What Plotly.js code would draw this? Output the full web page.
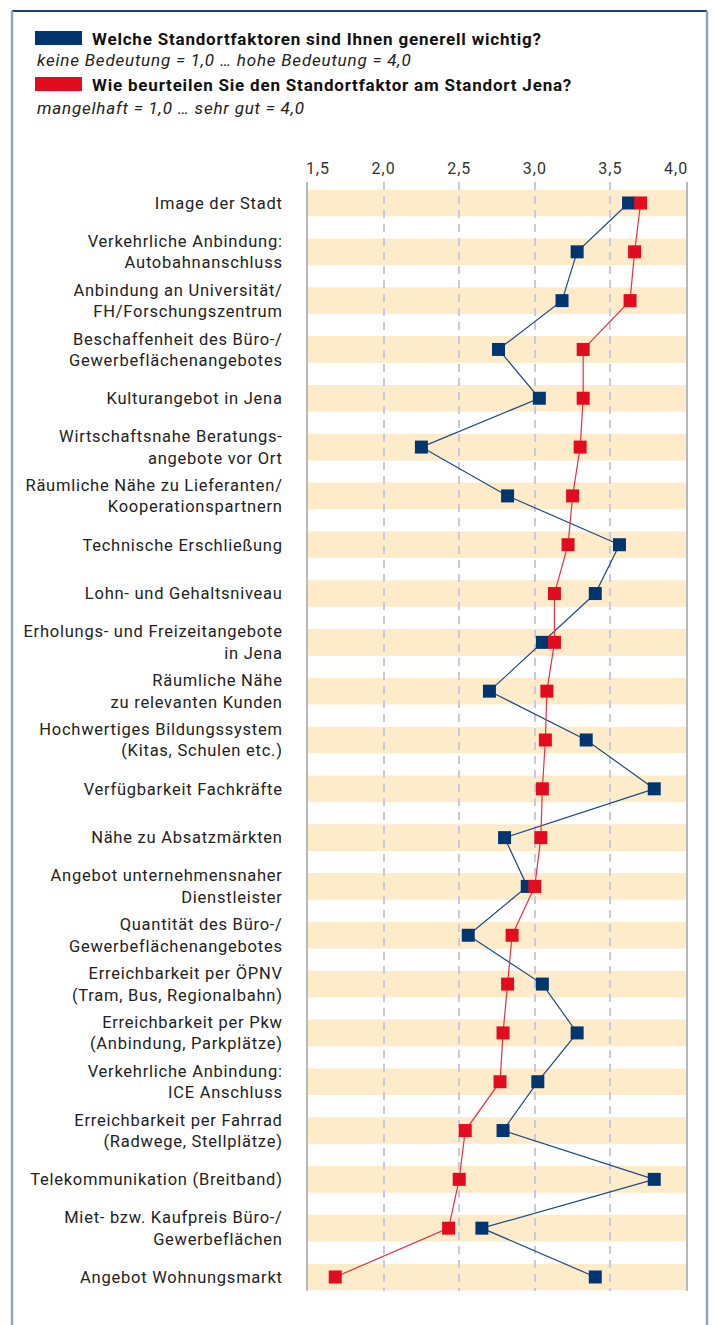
<!DOCTYPE html>
<html>
<head>
<meta charset="utf-8">
<script src="https://cdn.plot.ly/plotly-3.0.1.min.js"></script>
<style>
html,body{margin:0;padding:0;background:#fff;}
#chart{width:715px;height:1325px;}
#chart .ytick text{letter-spacing:0.75px;}
#chart .xtick text{letter-spacing:1px;}
text.annotation-text{letter-spacing:0.8px;}
</style>
</head>
<body>
<div id="chart"></div>
<script>
// ---- data ----
const categories = [
  "Image der Stadt",
  "Verkehrliche Anbindung:<br>Autobahnanschluss",
  "Anbindung an Universität/<br>FH/Forschungszentrum",
  "Beschaffenheit des Büro-/<br>Gewerbeflächenangebotes",
  "Kulturangebot in Jena",
  "Wirtschaftsnahe Beratungs-<br>angebote vor Ort",
  "Räumliche Nähe zu Lieferanten/<br>Kooperationspartnern",
  "Technische Erschließung",
  "Lohn- und Gehaltsniveau",
  "Erholungs- und Freizeitangebote<br>in Jena",
  "Räumliche Nähe<br>zu relevanten Kunden",
  "Hochwertiges Bildungssystem<br>(Kitas, Schulen etc.)",
  "Verfügbarkeit Fachkräfte",
  "Nähe zu Absatzmärkten",
  "Angebot unternehmensnaher<br>Dienstleister",
  "Quantität des Büro-/<br>Gewerbeflächenangebotes",
  "Erreichbarkeit per ÖPNV<br>(Tram, Bus, Regionalbahn)",
  "Erreichbarkeit per Pkw<br>(Anbindung, Parkplätze)",
  "Verkehrliche Anbindung:<br>ICE Anschluss",
  "Erreichbarkeit per Fahrrad<br>(Radwege, Stellplätze)",
  "Telekommunikation (Breitband)",
  "Miet- bzw. Kaufpreis Büro-/<br>Gewerbeflächen",
  "Angebot Wohnungsmarkt"
];
const importance = [3.62, 3.28, 3.18, 2.76, 3.03, 2.25, 2.82, 3.56, 3.40, 3.05, 2.70, 3.34, 3.79, 2.80, 2.95, 2.56, 3.05, 3.28, 3.02, 2.79, 3.79, 2.65, 3.40];
const rating     = [3.70, 3.66, 3.63, 3.32, 3.32, 3.30, 3.25, 3.22, 3.13, 3.13, 3.08, 3.07, 3.05, 3.04, 3.00, 2.85, 2.82, 2.79, 2.77, 2.54, 2.50, 2.43, 1.68];
const tickValues = [1.5, 2.0, 2.5, 3.0, 3.5, 4.0];
const tickLabels = ["\u00a0\u00a0\u00a0\u00a01,5", "2,0", "2,5", "3,0", "3,5", "4,0\u00a0\u00a0\u00a0\u00a0"];
const legendTitles = ["Welche Standortfaktoren sind Ihnen generell wichtig?", "Wie beurteilen Sie den Standortfaktor am Standort Jena?"];
const legendScales = ["keine Bedeutung = 1,0 … hohe Bedeutung = 4,0", "mangelhaft = 1,0 … sehr gut = 4,0"];

// ---- styles ----
const FONT = "Roboto, 'Noto Sans', sans-serif";
const BLUE = "#00366f", BLUE_LINE = "#1d4b84";
const RED = "#e30c1f", RED_LINE = "#e8303f";
const BAND = "#fdebca";
const W = 715, H = 1325, L = 308, R = 29, T = 182, B = 34;
const pw = W - L - R, ph = H - T - B;
const px = x => (x - L) / pw;          // pixel -> paper x
const py = y => (H - B - y) / ph;      // pixel -> paper y

const traces = [
  {
    type: "scatter", mode: "lines+markers", x: importance, y: categories,
    line: {color: BLUE_LINE, width: 1.2},
    marker: {symbol: "square", size: 13, color: BLUE},
    hoverinfo: "x", showlegend: false
  },
  {
    type: "scatter", mode: "lines+markers", x: rating, y: categories,
    line: {color: RED_LINE, width: 1.2},
    marker: {symbol: "square", size: 13, color: RED},
    hoverinfo: "x", showlegend: false
  }
];

const shapes = [];
categories.forEach((c, i) => {
  shapes.push({type: "rect", layer: "below", xref: "paper", yref: "y",
    x0: 0, x1: 1, y0: i - 0.273, y1: i + 0.273, fillcolor: BAND, line: {width: 0}});
});
// frame
shapes.push({type: "line", xref: "paper", yref: "paper", x0: px(12), x1: px(707), y0: py(11), y1: py(11), line: {color: "#1f3f73", width: 2}});
shapes.push({type: "line", xref: "paper", yref: "paper", x0: px(12), x1: px(12), y0: py(11), y1: py(1340), line: {color: "#8aa4c8", width: 2.5}});
shapes.push({type: "line", xref: "paper", yref: "paper", x0: px(707), x1: px(707), y0: py(11), y1: py(1340), line: {color: "#8aa4c8", width: 2.5}});
// legend swatches
shapes.push({type: "rect", xref: "paper", yref: "paper", x0: px(35), x1: px(82), y0: py(45), y1: py(31), fillcolor: BLUE, line: {width: 0}});
shapes.push({type: "rect", xref: "paper", yref: "paper", x0: px(35), x1: px(82), y0: py(91), y1: py(77), fillcolor: RED, line: {width: 0}});

const annotations = [
  {text: "<b>" + legendTitles[0] + "</b>", x: px(90), y: py(39), xanchor: "left", yanchor: "middle", font: {size: 17, color: "#111"}},
  {text: "<i>" + legendScales[0] + "</i>", x: px(35), y: py(60), xanchor: "left", yanchor: "middle", font: {size: 17, color: "#222"}},
  {text: "<b>" + legendTitles[1] + "</b>", x: px(90), y: py(85), xanchor: "left", yanchor: "middle", font: {size: 17, color: "#111"}},
  {text: "<i>" + legendScales[1] + "</i>", x: px(35), y: py(108), xanchor: "left", yanchor: "middle", font: {size: 17, color: "#222"}}
].map(a => Object.assign({xref: "paper", yref: "paper", showarrow: false}, a));

const layout = {
  width: W, height: H,
  margin: {l: L, r: R, t: T, b: B, pad: 0},
  paper_bgcolor: "#fff", plot_bgcolor: "#fff",
  font: {family: FONT, size: 16, color: "#222"},
  showlegend: false,
  xaxis: {
    side: "top", range: [1.5, 4.0], tickvals: tickValues, ticktext: tickLabels,
    showgrid: true, gridcolor: "#c9c9dd", gridwidth: 2, griddash: "8px,6px",
    zeroline: false, showline: false, ticks: "", ticklabelstandoff: 4,
    tickfont: {size: 16, color: "#333"}, fixedrange: true
  },
  yaxis: {
    type: "category", categoryarray: categories, range: [22.287, -0.43],
    showgrid: false, zeroline: false, showline: true, mirror: true,
    linecolor: "#b8b8b8", linewidth: 2, ticks: "", ticklabelstandoff: 20,
    tickfont: {size: 16.5, color: "#222"}, fixedrange: true
  },
  shapes: shapes,
  annotations: annotations
};

Plotly.newPlot("chart", traces, layout, {displayModeBar: false, staticPlot: true});
</script>
</body>
</html>
